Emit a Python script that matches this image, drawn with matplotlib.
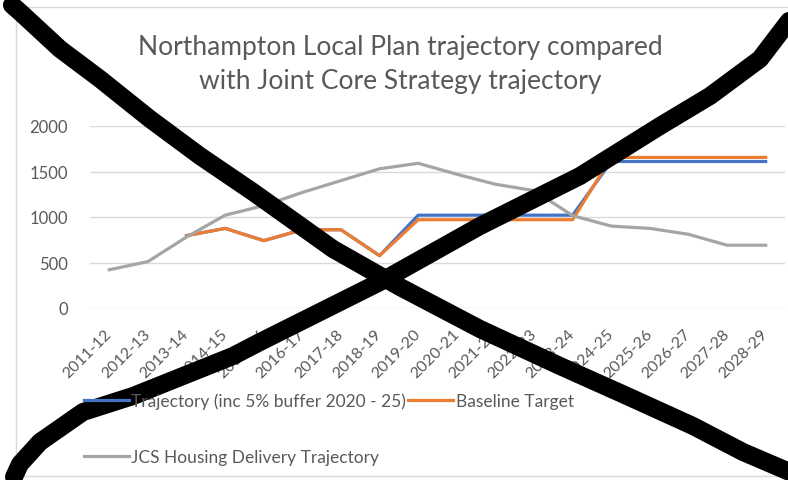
import matplotlib
matplotlib.use('Agg')
import matplotlib.pyplot as plt
from matplotlib.lines import Line2D
from matplotlib.patches import Rectangle

# Data
years = ['2011-12', '2012-13', '2013-14', '2014-15', '2015-16', '2016-17',
         '2017-18', '2018-19', '2019-20', '2020-21', '2021-22', '2022-23',
         '2023-24', '2024-25', '2025-26', '2026-27', '2027-28', '2028-29']
trajectory = [None, None, 795, 875, 740, 860, 860, 575, 1020, 1020, 1020, 1020,
              1020, 1610, 1610, 1610, 1610, 1610]
baseline = [None, None, 795, 875, 740, 860, 860, 575, 970, 970, 970, 970,
            970, 1655, 1655, 1655, 1655, 1655]
jcs = [420, 510, 780, 1020, 1125, 1270, 1400, 1530, 1590, 1470, 1360, 1290,
       1015, 900, 875, 810, 690, 690]

# The big black cross scribbled over the chart (pixel coords)
cross_down = [(12, 6), (20, 13), (60, 50), (100, 80), (150, 120), (200, 157),
              (253, 193), (333, 250), (400, 288), (480, 330), (560, 367),
              (627, 397), (693, 427), (743, 453), (792, 474)]
cross_up = [(14, 478), (20, 465), (40, 443), (83, 413), (133, 397), (183, 377),
            (233, 357), (260, 343), (320, 313), (380, 283), (480, 227),
            (580, 177), (660, 127), (710, 97), (760, 60), (792, 18)]

W, H = 788, 481
plt.rcParams['font.family'] = ['Lato', 'DejaVu Sans']
fig = plt.figure(figsize=(W / 100, H / 100), dpi=100)
ax = fig.add_axes([90 / W, 1 - 309 / H, 695 / W, 182 / H])

txt = '#595959'
x = list(range(len(years)))
l1, = ax.plot(x, [v if v is not None else float('nan') for v in trajectory],
              color='#4472C4', lw=2.3, label='Trajectory (inc 5% buffer 2020 - 25)')
l2, = ax.plot(x, [v if v is not None else float('nan') for v in baseline],
              color='#ED7D31', lw=2.3, label='Baseline Target')
l3, = ax.plot(x, jcs, color='#A5A5A5', lw=2.3, label='JCS Housing Delivery Trajectory')

ax.set_xlim(-0.5, len(years) - 0.5)
ax.set_ylim(0, 2000)
ax.set_yticks([0, 500, 1000, 1500, 2000])
ax.set_xticks(x)
ax.set_xticklabels(years, rotation=45, ha='right', va='center',
                   rotation_mode='anchor', fontsize=11.5, color=txt)
ax.tick_params(axis='y', labelsize=12, labelcolor=txt, length=0, pad=16)
ax.tick_params(axis='x', length=0, pad=17)
ax.grid(axis='y', color='#D9D9D9', lw=1)
ax.set_axisbelow(True)
for s in ax.spines.values():
    s.set_visible(False)

fig.text(400 / W, 1 - 47 / H, 'Northampton Local Plan trajectory compared',
         ha='center', va='center', fontsize=19, color=txt)
fig.text(400 / W, 1 - 82 / H, 'with Joint Core Strategy trajectory',
         ha='center', va='center', fontsize=19, color=txt)

fig.legend(handles=[l1, l3, l2], ncol=2, loc='upper left',
           bbox_to_anchor=(68 / W, 1 - 378 / H), frameon=False, fontsize=12.5,
           labelcolor=txt, handlelength=2.6, handletextpad=0.15,
           columnspacing=0.1, labelspacing=2.3)

fig.add_artist(Rectangle((16 / W, 4 / H), 1, 1 - 12 / H, transform=fig.transFigure,
                         fill=False, edgecolor='#D9D9D9', lw=1))

for pts in (cross_down, cross_up):
    fig.add_artist(Line2D([p[0] / W for p in pts], [1 - p[1] / H for p in pts],
                          transform=fig.transFigure, color='black', lw=13,
                          solid_capstyle='round', solid_joinstyle='round'))

fig.savefig('out.png', dpi=100)
